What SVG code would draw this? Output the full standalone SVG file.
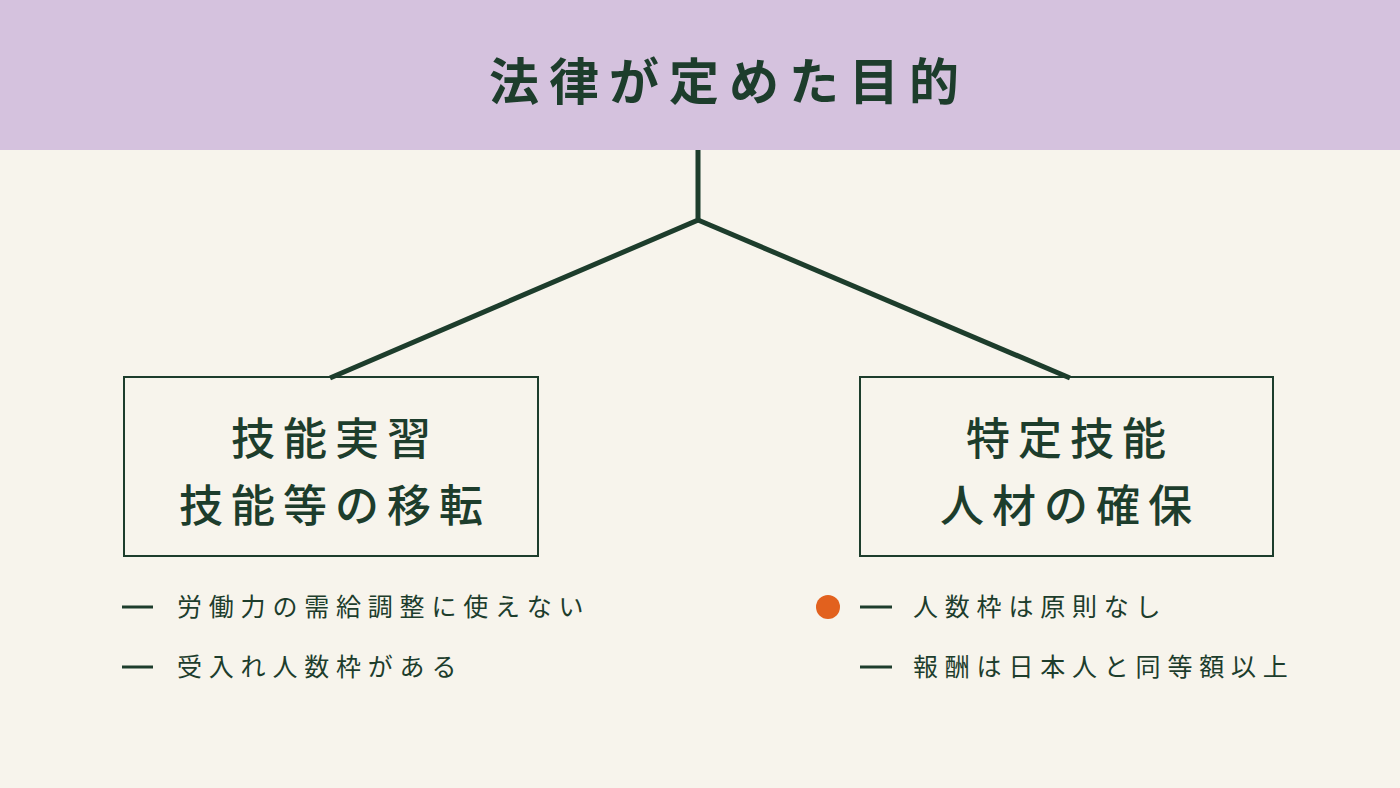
<svg xmlns="http://www.w3.org/2000/svg" width="1400" height="788" viewBox="0 0 1400 788">
<style>
.t{font-family:"Noto Sans CJK JP","Noto Sans",sans-serif;fill:#1d3d2c}
.box{fill:none;stroke:#1d3d2c;stroke-width:2}
.ln{stroke:#1d3d2c;stroke-width:5;fill:none;stroke-linejoin:miter}
.bt{font-size:44px;font-weight:500;letter-spacing:8px;text-anchor:middle}
.li{font-size:25px;letter-spacing:6.8px}
.dash{stroke:#1d3d2c;stroke-width:3}
</style>
<rect width="1400" height="788" fill="#f7f4ec"/>
<rect width="1400" height="150" fill="#d5c2de"/>
<text class="t" x="729" y="100" font-size="50" font-weight="600" letter-spacing="10" text-anchor="middle">法律が定めた目的</text>
<g id="connectors">
<polyline class="ln" points="698,150 698,220 330,378"/>
<polyline class="ln" points="698,220 1070,378"/>
</g>
<g id="left">
<rect class="box" x="124" y="377" width="414" height="179"/>
<text class="t bt" x="335" y="455">技能実習</text>
<text class="t bt" x="335" y="522">技能等の移転</text>
</g>
<g id="right">
<rect class="box" x="860" y="377" width="413" height="179"/>
<text class="t bt" x="1070" y="455">特定技能</text>
<text class="t bt" x="1070" y="522">人材の確保</text>
</g>
<g id="left-list">
<line class="dash" x1="122" y1="607" x2="153" y2="607"/>
<text class="t li" x="177" y="616">労働力の需給調整に使えない</text>
<line class="dash" x1="122" y1="667" x2="153" y2="667"/>
<text class="t li" x="177" y="676">受入れ人数枠がある</text>
</g>
<g id="right-list">
<circle cx="828" cy="607" r="12" fill="#e2611e"/>
<line class="dash" x1="860" y1="607" x2="892" y2="607"/>
<text class="t li" x="913" y="616">人数枠は原則なし</text>
<line class="dash" x1="860" y1="667" x2="892" y2="667"/>
<text class="t li" x="913" y="676">報酬は日本人と同等額以上</text>
</g>
</svg>
